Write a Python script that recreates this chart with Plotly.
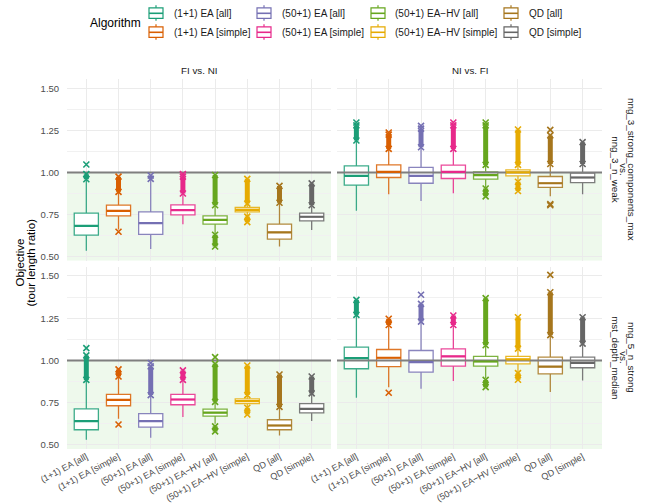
import plotly.graph_objects as go

# ---------------- data ----------------
algorithms = ["(1+1) EA [all]", "(1+1) EA [simple]", "(50+1) EA [all]", "(50+1) EA [simple]",
              "(50+1) EA\u2212HV [all]", "(50+1) EA\u2212HV [simple]", "QD [all]", "QD [simple]"]
colors = ["#1B9E77", "#D95F02", "#7570B3", "#E7298A", "#66A61E", "#E6AB02", "#A6761D", "#666666"]
col_labels = ["FI vs. NI", "NI vs. FI"]
row_labels = [["nng_3_strong_components_max", "vs.", "nng_3_n_weak"],
              ["nng_5_n_strong", "vs.", "mst_depth_median"]]
y_ticks = [0.50, 0.75, 1.00, 1.25, 1.50]
y_tick_text = ["0.50", "0.75", "1.00", "1.25", "1.50"]
reference_value = 1.0

# top-left: nng_3 / FI vs. NI
q1_TL = [0.628, 0.742, 0.632, 0.748, 0.693, 0.766, 0.604, 0.713]
med_TL = [0.683, 0.772, 0.699, 0.776, 0.719, 0.778, 0.644, 0.737]
q3_TL = [0.758, 0.806, 0.766, 0.808, 0.742, 0.792, 0.693, 0.758]
lo_TL = [0.535, 0.662, 0.545, 0.693, 0.633, 0.742, 0.560, 0.659]
hi_TL = [0.956, 0.881, 0.960, 0.871, 0.802, 0.812, 0.815, 0.800]
upband_TL = [(0.96, 0.99), (0.885, 0.975), (0.962, 0.982), (0.875, 0.975),
             (0.805, 0.985), (0.815, 0.962), (0.82, 0.92), (0.805, 0.935)]
loband_TL = [None, None, None, None, (0.56, 0.63), (0.705, 0.738), None, None]
iso_TL = [[1.047], [0.648], [], [0.99], [], [], [], []]

# top-right: nng_3 / NI vs. FI
q1_TR = [0.925, 0.970, 0.936, 0.964, 0.960, 0.980, 0.911, 0.940]
med_TR = [0.980, 1.004, 0.980, 1.004, 0.984, 1.000, 0.936, 0.970]
q3_TR = [1.039, 1.045, 1.030, 1.043, 1.004, 1.015, 0.976, 0.996]
lo_TR = [0.772, 0.871, 0.831, 0.877, 0.911, 0.950, 0.858, 0.871]
hi_TR = [1.188, 1.138, 1.148, 1.138, 1.043, 1.043, 1.049, 1.049]
upband_TR = [(1.19, 1.28), (1.14, 1.225), (1.15, 1.26), (1.14, 1.28),
             (1.045, 1.28), (1.045, 1.255), (1.05, 1.22), (1.05, 1.18)]
loband_TR = [None, None, None, None, (0.858, 0.905), (0.89, 0.945), None, None]
iso_TR = [[1.297], [1.237], [1.277], [1.297], [1.297], [], [1.253, 0.812, 0.805], []]

# bottom-left: nng_5 / FI vs. NI
q1_BL = [0.590, 0.732, 0.605, 0.738, 0.671, 0.744, 0.590, 0.690]
med_BL = [0.641, 0.767, 0.641, 0.769, 0.691, 0.759, 0.615, 0.714]
q3_BL = [0.714, 0.799, 0.685, 0.799, 0.712, 0.773, 0.649, 0.744]
lo_BL = [0.531, 0.655, 0.543, 0.665, 0.625, 0.724, 0.556, 0.641]
hi_BL = [0.882, 0.901, 0.793, 0.882, 0.753, 0.793, 0.720, 0.803]
upband_BL = [(0.885, 1.03), (0.905, 0.947), (0.795, 0.965), (0.885, 0.941),
             (0.755, 0.98), (0.795, 0.97), (0.725, 0.917), (0.805, 0.905)]
loband_BL = [None, None, None, None, (0.58, 0.61), (0.68, 0.72), None, None]
iso_BL = [[1.073], [0.621], [0.985], [], [1.02], [], [], []]

# bottom-right: nng_5 / NI vs. FI
q1_BR = [0.951, 0.964, 0.931, 0.966, 0.966, 0.980, 0.921, 0.957]
med_BR = [1.014, 1.016, 0.990, 1.024, 0.994, 1.006, 0.964, 0.986]
q3_BR = [1.079, 1.065, 1.059, 1.069, 1.024, 1.024, 1.020, 1.020]
lo_BR = [0.779, 0.842, 0.832, 0.878, 0.895, 0.931, 0.813, 0.882]
hi_BR = [1.266, 1.207, 1.227, 1.207, 1.089, 1.069, 1.148, 1.099]
upband_BR = [(1.27, 1.359), (1.21, 1.247), (1.23, 1.335), (1.21, 1.266),
             (1.09, 1.369), (1.07, 1.256), (1.15, 1.404), (1.10, 1.256)]
loband_BR = [None, None, None, None, (0.842, 0.885), (0.886, 0.925), None, None]
iso_BR = [[], [0.809], [1.389], [], [], [], [1.507], []]

# ---------------- figure ----------------
W, H = 645, 503
def px(x):
    return x / W
def py(y):
    return 1 - y / H

FONT = "Liberation Sans, Arial, sans-serif"
Y_RANGE = [0.476, 1.555]
X_RANGE = [0.4, 8.6]
BOX_W = 0.75

facets = [
    ("x", "y", q1_TL, med_TL, q3_TL, lo_TL, hi_TL, upband_TL, loband_TL, iso_TL),
    ("x2", "y2", q1_TR, med_TR, q3_TR, lo_TR, hi_TR, upband_TR, loband_TR, iso_TR),
    ("x3", "y3", q1_BL, med_BL, q3_BL, lo_BL, hi_BL, upband_BL, loband_BL, iso_BL),
    ("x4", "y4", q1_BR, med_BR, q3_BR, lo_BR, hi_BR, upband_BR, loband_BR, iso_BR),
]

def rgba(hexc, a):
    h = hexc.lstrip("#")
    return "rgba(%d,%d,%d,%.2f)" % (int(h[0:2], 16), int(h[2:4], 16), int(h[4:6], 16), a)

fig = go.Figure()
positions = list(range(1, len(algorithms) + 1))

for (xa, ya, q1, med, q3, lo, hi, upb, lob, iso) in facets:
    # reference line at 1.0 (drawn under the boxes)
    fig.add_trace(go.Scatter(x=X_RANGE, y=[reference_value, reference_value], mode="lines",
                             line=dict(color="#7F7F7F", width=2), showlegend=False,
                             xaxis=xa, yaxis=ya, hoverinfo="skip", cliponaxis=False))
    for i, name in enumerate(algorithms):
        pos = positions[i]
        c = colors[i]
        fig.add_trace(go.Box(
            x=[pos], q1=[q1[i]], median=[med[i]], q3=[q3[i]],
            lowerfence=[lo[i]], upperfence=[hi[i]],
            width=BOX_W, whiskerwidth=0, boxpoints=False,
            fillcolor="white", line=dict(color=rgba(c, 0.85), width=1.3),
            name=name, showlegend=False, xaxis=xa, yaxis=ya, hoverinfo="skip"))
        # thicker median line
        fig.add_trace(go.Scatter(
            x=[pos - BOX_W / 2, pos + BOX_W / 2], y=[med[i], med[i]], mode="lines",
            line=dict(color=c, width=2.2), showlegend=False, xaxis=xa, yaxis=ya,
            hoverinfo="skip"))
        # dense outlier bands
        bx, by = [], []
        for band in (upb[i], lob[i]):
            if band is not None:
                bx += [pos, pos, None]
                by += [band[0], band[1], None]
        if bx:
            fig.add_trace(go.Scatter(
                x=bx, y=by, mode="lines+markers",
                line=dict(color=c, width=5),
                marker=dict(symbol="x-thin", size=6, color=c, line=dict(color=c, width=1.6)),
                showlegend=False, xaxis=xa, yaxis=ya, hoverinfo="skip"))
        if iso[i]:
            fig.add_trace(go.Scatter(
                x=[pos] * len(iso[i]), y=iso[i], mode="markers",
                marker=dict(symbol="x-thin", size=6, color=c, line=dict(color=c, width=1.6)),
                showlegend=False, xaxis=xa, yaxis=ya, hoverinfo="skip"))

x_dom = [[px(67), px(331)], [px(337), px(602)]]
y_dom = [[py(260.7), py(79)], [py(449), py(266.7)]]

grid_c = "#EBEBEB"
def xaxis_cfg(col, show_labels):
    return dict(domain=x_dom[col], range=X_RANGE, tickvals=positions, ticktext=algorithms,
                showticklabels=show_labels, tickangle=-28, showgrid=True, gridcolor=grid_c,
                gridwidth=1, zeroline=False, showline=False, ticks="",
                tickfont=dict(family=FONT, size=9, color="#4D4D4D"), automargin=False)

def yaxis_cfg(row, show_labels):
    return dict(domain=y_dom[row], range=Y_RANGE, tickvals=y_ticks, ticktext=y_tick_text,
                showticklabels=show_labels, showgrid=True, gridcolor=grid_c, gridwidth=1,
                zeroline=False, showline=False, ticks="outside", ticklen=5,
                tickcolor="rgba(0,0,0,0)",
                minor=dict(showgrid=True, gridcolor="#F1F1F1", gridwidth=0.6, dtick=0.125,
                           tick0=0.375),
                tickfont=dict(family=FONT, size=9.5, color="#4D4D4D"), automargin=False)

fig.update_layout(
    xaxis=dict(xaxis_cfg(0, False), anchor="y"),
    yaxis=dict(yaxis_cfg(0, True), anchor="x"),
    xaxis2=dict(xaxis_cfg(1, False), anchor="y2"),
    yaxis2=dict(yaxis_cfg(0, False), anchor="x2"),
    xaxis3=dict(xaxis_cfg(0, True), anchor="y3"),
    yaxis3=dict(yaxis_cfg(1, True), anchor="x3"),
    xaxis4=dict(xaxis_cfg(1, True), anchor="y4"),
    yaxis4=dict(yaxis_cfg(1, False), anchor="x4"),
)

shapes = []
annotations = []
for xa, ya in [("x", "y"), ("x2", "y2"), ("x3", "y3"), ("x4", "y4")]:
    shapes.append(dict(type="rect", xref=xa, yref=ya, x0=X_RANGE[0], x1=X_RANGE[1],
                       y0=Y_RANGE[0], y1=reference_value, fillcolor="#EEF9EC",
                       line=dict(width=0), layer="below"))

# column strip titles
for col, lab in enumerate(col_labels):
    annotations.append(dict(text=lab, xref="paper", yref="paper",
                            x=(x_dom[col][0] + x_dom[col][1]) / 2, y=py(70),
                            xanchor="center", yanchor="middle", showarrow=False,
                            font=dict(family=FONT, size=9.8, color="#1A1A1A")))
# row strip titles (rotated)
row_centers = [169.5, 357.5]
line_x = [631.5, 623.3, 615.3]
for row, lines in enumerate(row_labels):
    for j, ln in enumerate(lines):
        annotations.append(dict(text=ln, xref="paper", yref="paper",
                                x=px(line_x[j]), y=py(row_centers[row]),
                                xanchor="center", yanchor="middle", textangle=90,
                                showarrow=False,
                                font=dict(family=FONT, size=9.8, color="#1A1A1A")))
# y-axis title
for txt, xx in [("Objective", 19.5), ("(tour length ratio)", 30.5)]:
    annotations.append(dict(text=txt, xref="paper", yref="paper", x=px(xx), y=py(263),
                            xanchor="center", yanchor="middle", textangle=-90,
                            showarrow=False, font=dict(family=FONT, size=11.5, color="black")))

# legend (drawn manually so the 2x4 column-major layout matches)
annotations.append(dict(text="Algorithm", xref="paper", yref="paper", x=px(88), y=py(23),
                        xanchor="left", yanchor="middle", showarrow=False,
                        font=dict(family=FONT, size=12, color="black")))
icon_left = [149, 257, 371, 504]
text_left = [171.5, 280, 393.3, 527.3]
row_y = [13.3, 32.3]
for i, name in enumerate(algorithms):
    col, row = i // 2, i % 2
    c = colors[i]
    x0, x1 = icon_left[col], icon_left[col] + 14
    yc = row_y[row]
    xc = (x0 + x1) / 2
    shapes.append(dict(type="rect", xref="paper", yref="paper", x0=px(x0), x1=px(x1),
                       y0=py(yc + 5), y1=py(yc - 5.5), fillcolor="white",
                       line=dict(color=c, width=1.2)))
    shapes.append(dict(type="line", xref="paper", yref="paper", x0=px(x0), x1=px(x1),
                       y0=py(yc), y1=py(yc), line=dict(color=c, width=1.6)))
    shapes.append(dict(type="line", xref="paper", yref="paper", x0=px(xc), x1=px(xc),
                       y0=py(yc - 5.5), y1=py(yc - 8), line=dict(color=c, width=1.2)))
    shapes.append(dict(type="line", xref="paper", yref="paper", x0=px(xc), x1=px(xc),
                       y0=py(yc + 5), y1=py(yc + 7.5), line=dict(color=c, width=1.2)))
    annotations.append(dict(text=name, xref="paper", yref="paper", x=px(text_left[col]),
                            y=py(yc), xanchor="left", yanchor="middle", showarrow=False,
                            font=dict(family=FONT, size=10, color="#1A1A1A")))

fig.update_layout(
    width=W, height=H, margin=dict(l=0, r=0, t=0, b=0),
    paper_bgcolor="white", plot_bgcolor="rgba(0,0,0,0)",
    boxmode="overlay", showlegend=False,
    shapes=shapes, annotations=annotations,
    font=dict(family=FONT),
)

fig.write_html("out.html", config={"displayModeBar": False},
               post_script="document.body.style.margin='0px';"
                           "document.documentElement.style.overflow='hidden';")
